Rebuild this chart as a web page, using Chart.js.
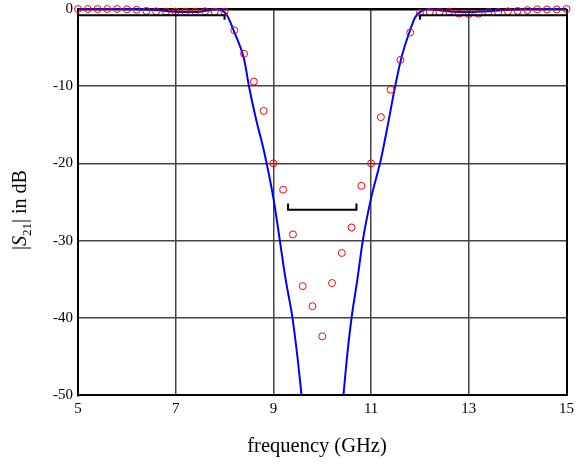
<!DOCTYPE html>
<html>
<head>
<meta charset="utf-8">
<script src="https://cdn.jsdelivr.net/npm/chart.js@4"></script>
<style>
  html, body { margin:0; padding:0; background:#fff; }
  #wrap { position:relative; width:579px; height:465px; }
  .lab { position:absolute; font-family:"Liberation Serif", serif; white-space:nowrap; color:#000; line-height:1; }
  #ylab { left:21px; top:210px; transform:translate(-50%,-50%) rotate(-90deg); font-size:20px; }
  #ylab sub { font-size:13px; }
  #xlab { left:317px; top:445px; transform:translate(-50%,-50%); font-size:20.5px; }
</style>
</head>
<body>
<div id="wrap">
  <canvas id="c" width="579" height="465"></canvas>
  <div class="lab" id="ylab">|<i>S</i><sub>21</sub>| in dB</div>
  <div class="lab" id="xlab"></div>
</div>
<script>
// Measured (red circles)
const freqMeas = [5.0,5.2,5.4,5.6,5.8,6.0,6.2,6.4,6.6,6.8,7.0,7.2,7.4,7.6,7.8,8.0,8.2,8.4,8.6,8.8,9.0,9.2,9.4,9.6,9.8,10.0,10.2,10.4,10.6,10.8,11.0,11.2,11.4,11.6,11.8,12.0,12.2,12.4,12.6,12.8,13.0,13.2,13.4,13.6,13.8,14.0,14.2,14.4,14.6,14.8,15.0];
const s21Meas = [0,0,0,0,0,-0.05,-0.1,-0.25,-0.3,-0.35,-0.35,-0.35,-0.35,-0.3,-0.35,-0.35,-2.75,-5.8,-9.4,-13.2,-20.0,-23.4,-29.2,-35.9,-38.5,-42.4,-35.5,-31.6,-28.3,-22.9,-20.0,-14.0,-10.45,-6.6,-3.05,-0.5,-0.4,-0.4,-0.35,-0.6,-0.65,-0.6,-0.4,-0.4,-0.3,-0.25,-0.15,-0.05,-0.05,-0.05,0];

// Simulated (blue line)
const freqSim = [5.0,5.5,6.0,6.5,7.0,7.4,7.7,7.85,7.95,8.05,8.2,8.4,8.5,8.65,8.8,9.0,9.13,9.25,9.39,9.5,9.6,10.0,10.42,10.5,10.6,10.72,10.83,11.0,11.2,11.37,11.48,11.62,11.79,11.9,12.0,12.15,12.4,12.8,13.0,13.4,13.8,14.2,15.0];
const s21Sim = [0,0,0,-0.1,-0.35,-0.4,-0.15,0,-0.2,-0.8,-3.0,-6.5,-10.0,-14.4,-18.2,-24.5,-29.9,-35,-40,-45.5,-51.5,-75,-51,-45.5,-40,-35,-30,-24.5,-19.5,-14.1,-10.4,-6.3,-2.9,-1.1,-0.4,0,-0.15,-0.4,-0.4,-0.3,-0.1,0,0];

// Specification masks
const maskLeftX = [5, 8, 8];
const maskLeftY = [-0.8, -0.8, -1.4];
const maskRightX = [12, 12, 15];
const maskRightY = [-1.4, -0.8, -0.8];
const maskStopX = [9.3, 9.3, 10.7, 10.7];
const maskStopY = [-25.2, -26, -26, -25.2];

// Axis ticks
const xTicks = [5, 7, 9, 11, 13, 15];
const yTicks = [0, -10, -20, -30, -40, -50];
const xTitle = 'frequency (GHz)';
document.getElementById('xlab').textContent = xTitle;

const pts = (xs, ys) => xs.map((x, i) => ({x, y: ys[i]}));
const serif = '"Liberation Serif", "Times New Roman", serif';

const maskDs = (xs, ys) => ({
  data: pts(xs, ys), showLine: true, borderColor: '#000', borderWidth: 2,
  pointRadius: 0, tension: 0, fill: false, borderCapStyle: 'butt'
});

new Chart(document.getElementById('c'), {
  type: 'scatter',
  data: {
    datasets: [
      maskDs(maskLeftX, maskLeftY),
      maskDs(maskRightX, maskRightY),
      maskDs(maskStopX, maskStopY),
      {
        data: pts(freqMeas, s21Meas), showLine: false, clip: false,
        pointStyle: 'circle', pointRadius: 3.5, pointBorderWidth: 1,
        pointBorderColor: '#ff0000', pointBackgroundColor: 'rgba(0,0,0,0)'
      },
      {
        data: pts(freqSim, s21Sim), showLine: true, borderColor: '#0000ff', borderWidth: 2,
        clip: { left: 2, top: 3, right: 2, bottom: 0 },
        pointRadius: 0, cubicInterpolationMode: 'monotone', fill: false
      }
    ]
  },
  options: {
    responsive: false,
    animation: false,
    layout: { padding: { top: 9, right: 12, left: 0, bottom: 0 } },
    plugins: { legend: { display: false }, tooltip: { enabled: false } },
    scales: {
      x: {
        type: 'linear', min: 5, max: 15,
        afterBuildTicks: s => { s.ticks = xTicks.map(v => ({value: v})); },
        afterFit: s => { s.height = 70; },
        ticks: { font: { family: serif, size: 15 }, color: '#000', padding: 5, maxRotation: 0 },
        grid: {
          drawTicks: false,
          color: c => (c.tick && (c.tick.value === 5 || c.tick.value === 15)) ? '#000' : '#444',
          lineWidth: c => (c.tick && (c.tick.value === 5 || c.tick.value === 15)) ? 2 : 1.5
        },
        border: { display: true, color: '#000', width: 2 }
      },
      y: {
        type: 'linear', min: -50, max: 0,
        afterBuildTicks: s => { s.ticks = yTicks.map(v => ({value: v})); },
        afterFit: s => { s.width = 78; s.paddingTop = 0; s.paddingBottom = 0; },
        ticks: { font: { family: serif, size: 15 }, color: '#000', padding: 5 },
        grid: {
          drawTicks: false,
          color: c => (c.tick && (c.tick.value === 0 || c.tick.value === -50)) ? '#000' : '#444',
          lineWidth: c => (c.tick && c.tick.value === 0) ? 2.5 : (c.tick && c.tick.value === -50 ? 2 : 1.5)
        },
        border: { display: true, color: '#000', width: 2 }
      }
    }
  }
});
</script>
</body>
</html>
